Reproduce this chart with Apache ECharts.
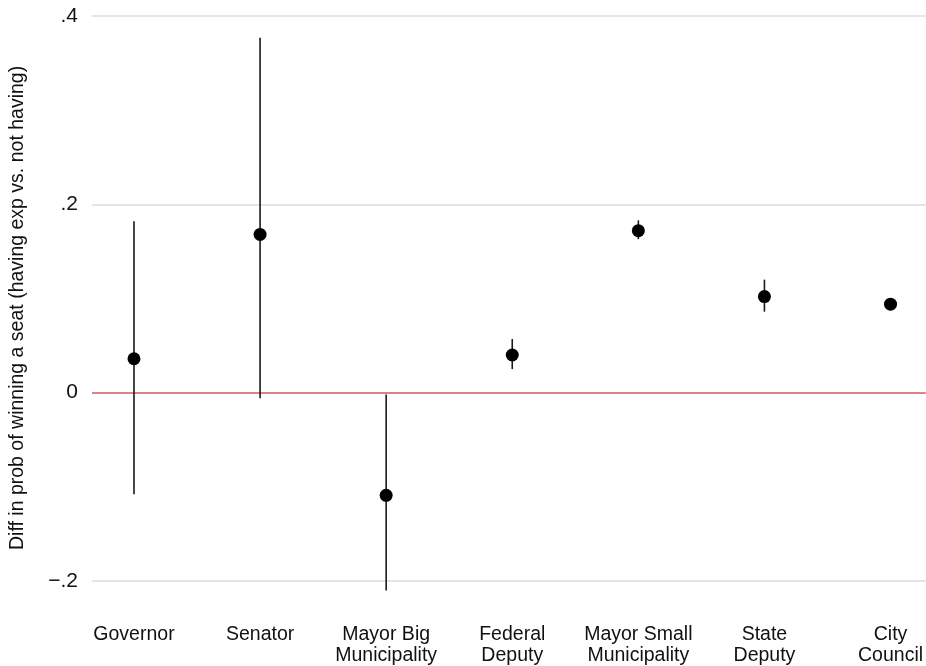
<!DOCTYPE html>
<html>
<head>
<meta charset="utf-8">
<script src="https://cdn.jsdelivr.net/npm/echarts@6/dist/echarts.min.js"></script>
<style>
  html, body { margin: 0; padding: 0; background: #ffffff; }
  #chart { width: 926px; height: 666px; }
</style>
</head>
<body>
<div id="chart"></div>
<script>
// Office types (x positions 0..6)
const categories = ['Governor', 'Senator', 'Mayor Big\nMunicipality', 'Federal\nDeputy',
  'Mayor Small\nMunicipality', 'State\nDeputy', 'City\nCouncil'];
// Point estimates and confidence bounds
const estimates = [0.036, 0.168, -0.109, 0.040, 0.172, 0.102, 0.094];
const lower     = [-0.108, -0.006, -0.210, 0.025, 0.163, 0.086, 0.090];
const upper     = [0.182, 0.377, -0.002, 0.057, 0.183, 0.120, 0.099];
// Y tick values and reference lines
const yTicks = [-0.2, 0, 0.2, 0.4];
const gridValues = [-0.2, 0.2, 0.4];
const zeroLine = 0;

const FONT = '"Liberation Sans", Arial, sans-serif';

const seriesData = categories.map((c, i) => [i, estimates[i], lower[i], upper[i]]);

function fmtTick(v) {
  if (Math.abs(v) < 1e-9) return '0';
  const s = '.' + Math.round(Math.abs(v) * 10);
  return v < 0 ? '\u2212' + s : s;
}

const chart = echarts.init(document.getElementById('chart'), null, { renderer: 'canvas' });
chart.setOption({
  backgroundColor: '#ffffff',
  animation: false,
  grid: { left: 91, right: 0, top: 16, bottom: 66.2, containLabel: false },
  xAxis: {
    type: 'value',
    min: -0.333,
    max: 6.28,
    axisLine: { show: false },
    axisTick: { show: false },
    splitLine: { show: false },
    axisLabel: {
      customValues: categories.map((c, i) => i),
      formatter: v => categories[Math.round(v)],
      fontFamily: FONT,
      fontSize: 19.5,
      lineHeight: 21,
      color: '#111111',
      margin: 24,
      align: 'center'
    }
  },
  yAxis: {
    type: 'value',
    min: -0.22,
    max: 0.4,
    name: 'Diff in prob of winning a seat (having exp vs. not having)',
    nameLocation: 'middle',
    nameGap: 64,
    nameRotate: 90,
    nameTextStyle: { fontFamily: FONT, fontSize: 19.5, color: '#111111' },
    axisLine: { show: false },
    axisTick: { show: false },
    splitLine: { show: false },
    axisLabel: {
      customValues: yTicks,
      formatter: fmtTick,
      fontFamily: FONT,
      fontSize: 21,
      color: '#111111',
      margin: 14
    }
  },
  series: [{
    type: 'custom',
    data: seriesData,
    clip: false,
    encode: { x: 0, y: 1 },
    renderItem: function (params, api) {
      const x = api.value(0);
      const pt = api.coord([x, api.value(1)]);
      const lo = api.coord([x, api.value(2)]);
      const hi = api.coord([x, api.value(3)]);
      return {
        type: 'group',
        children: [
          {
            type: 'line',
            shape: { x1: pt[0], y1: lo[1], x2: pt[0], y2: hi[1] },
            style: { stroke: '#1a1a1a', lineWidth: 1.6 }
          },
          {
            type: 'circle',
            shape: { cx: pt[0], cy: pt[1], r: 6.5 },
            style: { fill: '#000000' }
          }
        ]
      };
    },
    markLine: {
      silent: true,
      symbol: 'none',
      label: { show: false },
      data: gridValues.map(v => ({ yAxis: v, lineStyle: { color: '#dcdcdc', width: 1.5, type: 'solid' } }))
        .concat([{ yAxis: zeroLine, lineStyle: { color: '#cc5a66', width: 1.6, type: 'solid' } }])
    },
    z: 5
  }]
});
</script>
</body>
</html>
